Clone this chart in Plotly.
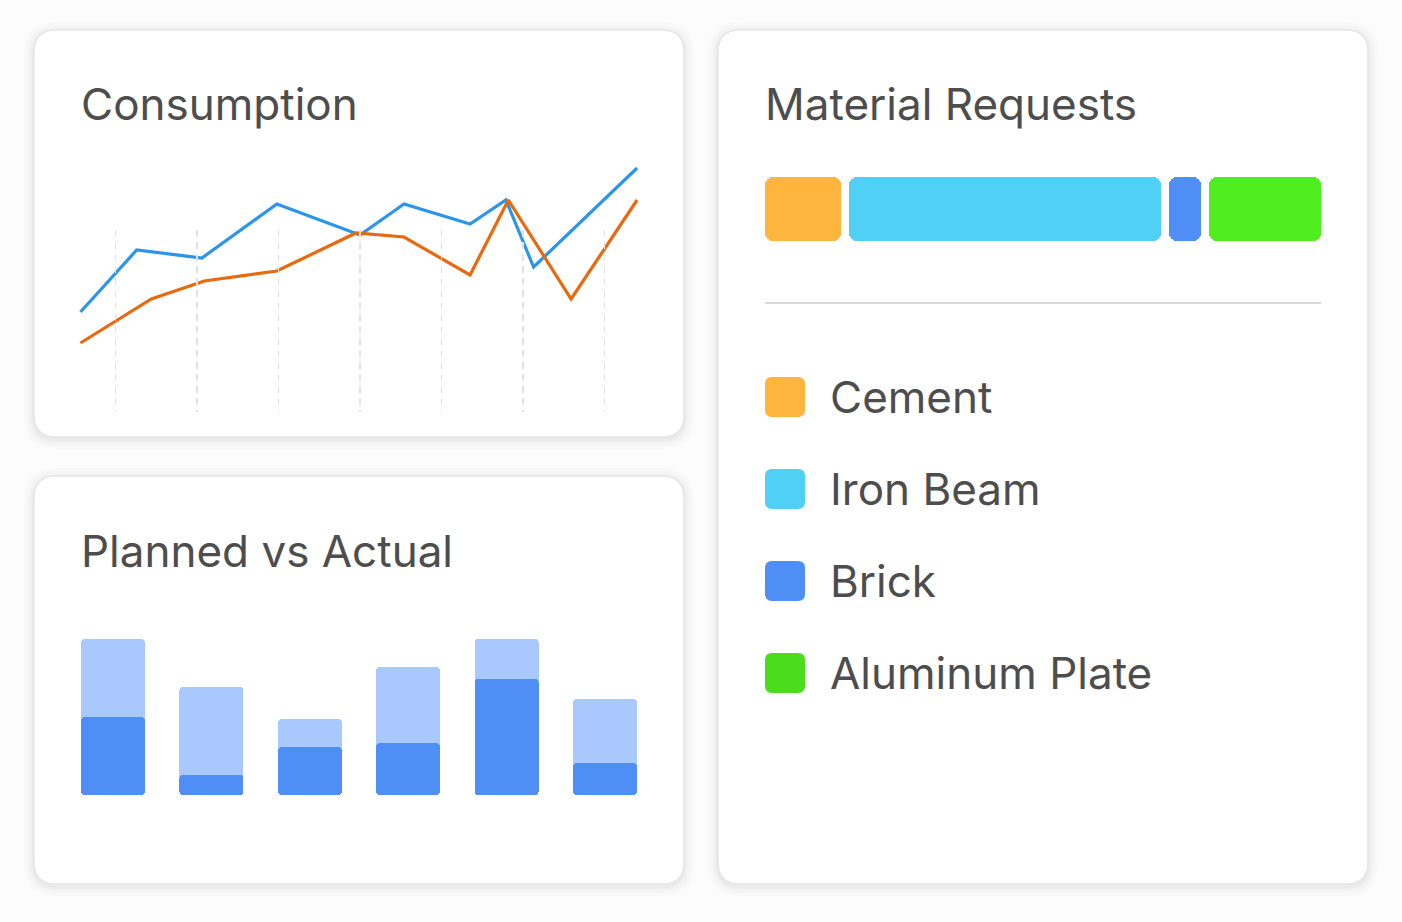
import plotly.graph_objects as go

W, H = 1402, 922

# ---------------- data ----------------
# Consumption (two series, x in period units, y in consumption units)
blue_x = [0.57, 1.26, 2.06, 2.98, 4.0, 4.54, 5.35, 5.79, 6.13, 7.40]
blue_y = [50, 81, 77, 104, 88.5, 104, 94, 106, 72.5, 122]
orange_x = [0.57, 1.44, 2.09, 2.98, 3.95, 4.54, 5.35, 5.82, 6.59, 7.40]
orange_y = [34.5, 56.5, 65.5, 70.5, 89.5, 87.5, 68.5, 106, 56.5, 106]

# Planned vs Actual
pva_idx = [0, 1, 2, 3, 4, 5]
planned = [39, 27, 19, 32, 39, 24]
actual = [19.5, 5, 12, 13, 29, 8]

# Material Requests
materials = ["Cement", "Iron Beam", "Brick", "Aluminum Plate"]
requests = [19, 78, 8, 28]
mat_bar_colors = ["#FDB53D", "#51D0F5", "#4F8EF5", "#50EE1E"]
mat_legend_colors = ["#FDB53D", "#51D0F5", "#4F8EF5", "#4CDC1E"]

# ---------------- helpers ----------------
def fx(px):
    return px / W

def fy(py):
    return 1 - py / H

def rrect(x0, y0, x1, y1, r):
    rx, ry = r / W, r / H
    X0, X1 = fx(x0), fx(x1)
    Y0, Y1 = fy(y0), fy(y1)
    return (f"M{X0+rx},{Y0} L{X1-rx},{Y0} Q{X1},{Y0} {X1},{Y0-ry} "
            f"L{X1},{Y1+ry} Q{X1},{Y1} {X1-rx},{Y1} L{X0+rx},{Y1} "
            f"Q{X0},{Y1} {X0},{Y1+ry} L{X0},{Y0-ry} Q{X0},{Y0} {X0+rx},{Y0} Z")

shapes = []
cards = [(34, 30, 684, 437), (34, 476, 684, 884), (718, 30, 1368, 884)]
for (x0, y0, x1, y1) in cards:
    for k, a in [(10, 0.010), (7, 0.014), (4, 0.018), (2, 0.022)]:
        shapes.append(dict(type="path", xref="paper", yref="paper",
                           path=rrect(x0 - k, y0 - k + 2, x1 + k, y1 + k + 2, 22 + k),
                           fillcolor=f"rgba(0,0,0,{a})", line=dict(width=0), layer="below"))
for (x0, y0, x1, y1) in cards:
    shapes.append(dict(type="path", xref="paper", yref="paper",
                       path=rrect(x0, y0, x1, y1, 22),
                       fillcolor="#ffffff", line=dict(color="#e6e6e6", width=1.5), layer="below"))

shapes.append(dict(type="line", xref="paper", yref="paper",
                   x0=fx(765), x1=fx(1321), y0=fy(303), y1=fy(303),
                   line=dict(color="#cccccc", width=1.5)))

leg_y = [397, 489, 581, 673]
for c, yy in zip(mat_legend_colors, leg_y):
    shapes.append(dict(type="path", xref="paper", yref="paper",
                       path=rrect(765, yy - 20, 805, yy + 20, 7),
                       fillcolor=c, line=dict(width=0)))

TEXT = "#4d4d4d"
FONT = "Inter, 'Noto Sans', sans-serif"
annotations = []
for txt, x, y in [("Consumption", 79, 104), ("Planned vs Actual", 79, 551), ("Material Requests", 763, 104)]:
    annotations.append(dict(text=txt, x=fx(x), y=fy(y), xref="paper", yref="paper",
                            xanchor="left", yanchor="middle", showarrow=False,
                            font=dict(family=FONT, size=44, color=TEXT)))
for name, yy in zip(materials, leg_y):
    annotations.append(dict(text=name, x=fx(828), y=fy(yy), xref="paper", yref="paper",
                            xanchor="left", yanchor="middle", showarrow=False,
                            font=dict(family=FONT, size=44, color=TEXT)))

fig = go.Figure()

# ---- Consumption lines ----
fig.add_trace(go.Scatter(x=blue_x, y=blue_y, mode="lines", xaxis="x", yaxis="y",
                         line=dict(color="#2B95E9", width=3.2), hoverinfo="skip"))
fig.add_trace(go.Scatter(x=orange_x, y=orange_y, mode="lines", xaxis="x", yaxis="y",
                         line=dict(color="#E8690E", width=3.2), hoverinfo="skip"))
fig.add_trace(go.Scatter(x=[0, 8], y=[0, 1], mode="markers", xaxis="x2", yaxis="y2",
                         marker=dict(opacity=0), hoverinfo="skip"))

# ---- Planned vs Actual bars ----
fig.add_trace(go.Bar(x=pva_idx, y=planned, base=[0] * len(planned), xaxis="x3", yaxis="y3",
                     width=0.65, marker=dict(color="#A9C8FE", cornerradius=4, line=dict(width=0)),
                     hoverinfo="skip"))
fig.add_trace(go.Bar(x=pva_idx, y=actual, base=[0] * len(actual), xaxis="x3", yaxis="y3",
                     width=0.65, marker=dict(color="#4F8EF5", cornerradius=4, line=dict(width=0)),
                     hoverinfo="skip"))

# ---- Material Requests segmented bar ----
GAP = 2
start = 0
for v, c in zip(requests, mat_bar_colors):
    fig.add_trace(go.Bar(x=[v], y=[0], base=[start], orientation="h",
                         xaxis="x4", yaxis="y4", width=1,
                         marker=dict(color=c, cornerradius=8, line=dict(width=0)),
                         hoverinfo="skip"))
    start += v + GAP
total = start - GAP

hidden = dict(visible=False, fixedrange=True)
fig.update_layout(
    width=W, height=H, margin=dict(l=0, r=0, t=0, b=0),
    paper_bgcolor="#fcfcfc", plot_bgcolor="rgba(0,0,0,0)",
    showlegend=False, barmode="overlay", bargap=0,
    shapes=shapes, annotations=annotations,
    xaxis=dict(domain=[fx(34), fx(686)], range=[0, 8], **hidden),
    yaxis=dict(domain=[fy(412), fy(152)], range=[0, 130], **hidden),
    xaxis2=dict(domain=[fx(34), fx(686)], range=[0, 8], dtick=1, tick0=0, showgrid=True,
                gridcolor="#e2e2e2", gridwidth=1.5, griddash="7px,5px", anchor="y2",
                showticklabels=False, zeroline=False, showline=False, ticks="", fixedrange=True),
    yaxis2=dict(domain=[fy(412), fy(230)], range=[0, 1], anchor="x2", **hidden),
    xaxis3=dict(domain=[fx(63.8), fx(654.2)], range=[-0.5, 5.5], anchor="y3", **hidden),
    yaxis3=dict(domain=[fy(795), fy(635)], range=[0, 40], anchor="x3", **hidden),
    xaxis4=dict(domain=[fx(765), fx(1321)], range=[0, total], anchor="y4", **hidden),
    yaxis4=dict(domain=[fy(241), fy(177)], range=[-0.5, 0.5], anchor="x4", **hidden),
)

fig.write_html("out.html", config=dict(displayModeBar=False, staticPlot=True),
               post_script="document.body.style.margin='0';")
